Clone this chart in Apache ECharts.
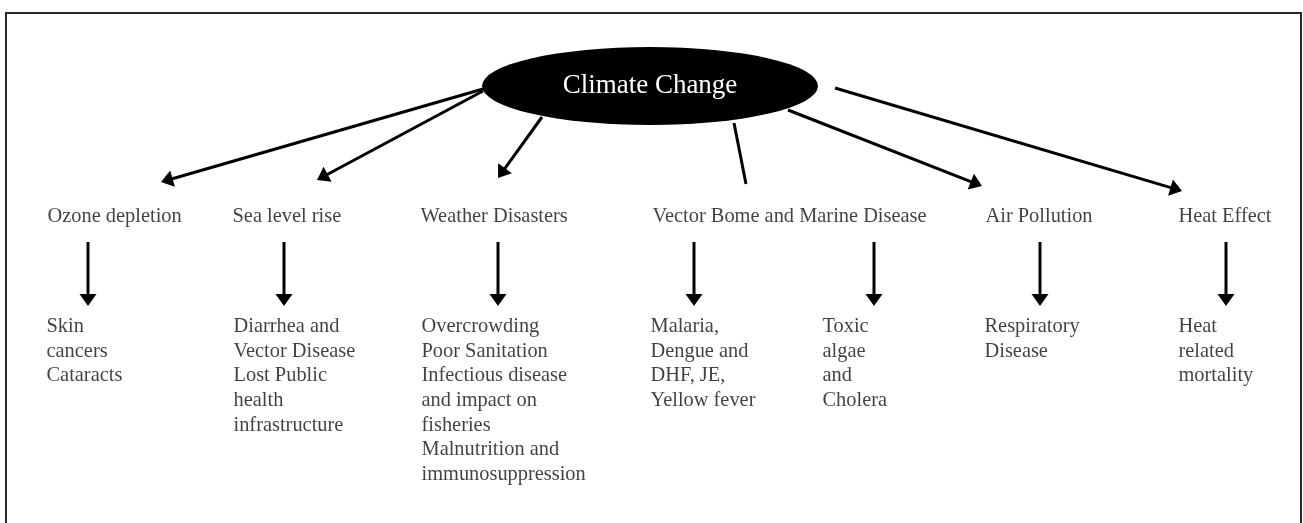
<!DOCTYPE html>
<html>
<head>
<meta charset="utf-8">
<script src="https://cdn.jsdelivr.net/npm/echarts/dist/echarts.min.js"></script>
<style>
  html, body { margin: 0; padding: 0; background: #fff; }
  #main { width: 1303px; height: 523px; }
</style>
</head>
<body>
<div id="main"></div>
<script>
// root of the diagram
var rootName = 'Climate Change';

// second level: the kinds of impact
var impacts = ['Ozone depletion', 'Sea level rise', 'Weather Disasters',
  'Vector Bome and Marine Disease', 'Air Pollution', 'Heat Effect'];

// third level: health outcomes
var outcomes = [
  'Skin\ncancers\nCataracts',
  'Diarrhea and\nVector Disease\nLost Public\nhealth\ninfrastructure',
  'Overcrowding\nPoor Sanitation\nInfectious disease\nand impact on\nfisheries\nMalnutrition and\nimmunosuppression',
  'Malaria,\nDengue and\nDHF, JE,\nYellow fever',
  'Toxic\nalgae\nand\nCholera',
  'Respiratory\nDisease',
  'Heat\nrelated\nmortality'
];

// layout (pixel space, y going down)
var rootPos = [650, 86];
var impactX = [47, 232, 420, 652, 985, 1178];
var impactY = 217;
var outcomeX = [47, 234, 422, 651, 823, 985, 1179];
var outcomeY = 315;
var downArrowX = [88, 284, 498, 694, 874, 1040, 1226];

// links from the ellipse to the second level: x1, y1, x2 (tip), y2, arrow?
var topLinks = [
  [483, 89, 161, 182, 1],
  [483, 91, 317, 180, 1],
  [542, 117, 498, 178, 1],
  [734, 123, 746, 184, 0],
  [788, 110, 982, 186, 1],
  [835, 88, 1182, 191, 1]
];

var serif = '"Liberation Serif", "Times New Roman", serif';
var ink = '#000';
var headLen = 12, headHalf = 8.5;

var linkData = topLinks.slice();
downArrowX.forEach(function (x) {
  linkData.push([x, 242, x, 306, 1]);
});

function renderLink(params, api) {
  var a = api.coord([api.value(0), api.value(1)]);
  var tip = api.coord([api.value(2), api.value(3)]);
  var hasArrow = api.value(4) > 0;
  var dx = tip[0] - a[0], dy = tip[1] - a[1];
  var d = Math.sqrt(dx * dx + dy * dy);
  var ux = dx / d, uy = dy / d;
  var end = tip;
  var children = [];
  if (hasArrow) {
    var bx = tip[0] - ux * headLen, by = tip[1] - uy * headLen;
    end = [bx + ux * 2, by + uy * 2];
    children.push({
      type: 'polygon',
      shape: { points: [tip, [bx - uy * headHalf, by + ux * headHalf], [bx + uy * headHalf, by - ux * headHalf]] },
      style: { fill: ink }
    });
  }
  children.unshift({
    type: 'line',
    shape: { x1: a[0], y1: a[1], x2: end[0], y2: end[1] },
    style: { stroke: ink, lineWidth: 3 }
  });
  return { type: 'group', children: children };
}

var chart = echarts.init(document.getElementById('main'));
chart.setOption({
  animation: false,
  backgroundColor: '#fff',
  grid: { left: 0, right: 0, top: 0, bottom: 0 },
  xAxis: { type: 'value', min: 0, max: 1303, show: false },
  yAxis: { type: 'value', min: 0, max: 523, inverse: true, show: false },
  graphic: [{
    type: 'rect',
    shape: { x: 6, y: 13, width: 1295, height: 560 },
    style: { fill: 'none', stroke: '#2a2a2a', lineWidth: 2 },
    silent: true
  }],
  series: [
    {
      type: 'custom',
      silent: true,
      renderItem: renderLink,
      encode: { x: [0, 2], y: [1, 3] },
      data: linkData
    },
    {
      // the black ellipse
      type: 'scatter',
      silent: true,
      symbol: 'circle',
      symbolSize: [336, 78],
      itemStyle: { color: '#000', opacity: 1 },
      label: {
        show: true, position: 'inside', formatter: rootName,
        color: '#fff', fontFamily: serif, fontSize: 27
      },
      data: [rootPos]
    },
    {
      type: 'scatter',
      silent: true,
      symbolSize: 1,
      itemStyle: { color: 'rgba(0,0,0,0)' },
      label: {
        show: true, position: 'right', distance: 0,
        formatter: function (p) { return impacts[p.dataIndex]; },
        color: '#111', fontFamily: serif, fontSize: 20.4
      },
      data: impactX.map(function (x) { return [x, impactY]; })
    },
    {
      type: 'scatter',
      silent: true,
      symbolSize: 1,
      itemStyle: { color: 'rgba(0,0,0,0)' },
      label: {
        show: true, position: [0, 0], align: 'left', verticalAlign: 'top',
        formatter: function (p) { return outcomes[p.dataIndex]; },
        color: '#111', fontFamily: serif, fontSize: 20.4, lineHeight: 24.6
      },
      data: outcomeX.map(function (x) { return [x, outcomeY]; })
    }
  ]
});
</script>
</body>
</html>
